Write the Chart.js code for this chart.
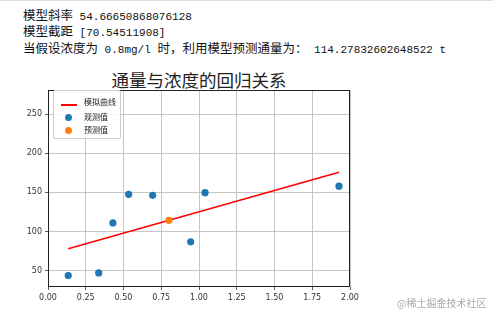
<!DOCTYPE html>
<html>
<head>
<meta charset="utf-8">
<script src="https://cdn.jsdelivr.net/npm/chart.js@4"></script>
<style>
  body { margin: 0; background: #fff; width: 493px; height: 311px; overflow: hidden; position: relative; }
  .out { position: absolute; left: 23px; top: 8px; font-family: "Noto Sans CJK SC"; font-size: 12.5px; line-height: 13.3px; color: #111; white-space: pre; }
  .out .m { font-family: "Liberation Mono"; font-size: 11px; }
  .topline { position: absolute; left: 0; top: 0; width: 493px; height: 1px; background: #ddd; }
  #title { position: absolute; left: 48px; width: 302px; top: 67px; text-align: center; font-family: "Noto Sans CJK SC"; font-size: 17.5px; color: #222; }
  #wrap { position: absolute; left: 0; top: 60px; width: 493px; height: 251px; }
  .legend { position: absolute; left: 53px; top: 90px; width: 66px; height: 47px; border: 1px solid #ccc; border-radius: 2px; background: rgba(255,255,255,0.85); font-family: "Noto Sans CJK SC"; font-size: 8px; color: #222; }
  .legend div { position: absolute; left: 30px; }
  .mark { position: absolute; }
  .wm { position: absolute; left: 397px; top: 295px; font-family: "Noto Sans CJK SC"; font-size: 10px; color: #aaa; }
</style>
</head>
<body>
<div class="topline"></div>
<div class="out">模型斜率<span class="m"> 54.66650868076128</span>
模型截距<span class="m"> [70.54511908]</span>
当假设浓度为<span class="m"> 0.8mg/l </span>时，利用模型预测通量为：<span class="m"> 114.27832602648522 t</span></div>
<div id="title">通量与浓度的回归关系</div>
<div id="wrap"><canvas id="c" width="493" height="251"></canvas></div>
<div class="legend">
  <span class="mark" style="left:7px;top:13px;width:16px;height:1.5px;background:#ff0000"></span>
  <div style="top:5px">模拟曲线</div>
  <span class="mark" style="left:11px;top:23px;width:7px;height:7px;border-radius:50%;background:#1f77b4"></span>
  <div style="top:20px">观测值</div>
  <span class="mark" style="left:11px;top:36px;width:7px;height:7px;border-radius:50%;background:#ff7f0e"></span>
  <div style="top:33px">预测值</div>
</div>
<div class="wm">@稀土掘金技术社区</div>
<script>
// observed concentration (mg/l) and flux
const obsX = [0.134, 0.336, 0.43, 0.534, 0.693, 0.945, 1.04, 1.927];
const obsY = [43.6, 47, 111, 147.6, 146.3, 86.9, 149.7, 158];
const slope = 54.66650868076128;
const intercept = 70.54511908;
const predX = [0.8];
const predY = [114.27832602648522];
const xTicks = [0, 0.25, 0.5, 0.75, 1, 1.25, 1.5, 1.75, 2];
const yTicks = [50, 100, 150, 200, 250];

const lineX = [Math.min(...obsX), Math.max(...obsX)];
const lineData = lineX.map(x => ({ x: x, y: intercept + slope * x }));

const boxPlugin = {
    id: 'box',
    afterDraw(chart) {
        const a = chart.chartArea, c = chart.ctx;
        c.save();
        c.strokeStyle = '#222';
        c.lineWidth = 1;
        c.strokeRect(a.left + 0.5, a.top + 0.5, a.width - 1, a.height - 1);
        c.restore();
    }
};

new Chart(document.getElementById('c'), {
    type: 'scatter',
    data: {
        datasets: [{
            type: 'line',
            data: lineData,
            borderColor: '#ff0000',
            borderWidth: 1.5,
            pointRadius: 0,
            order: 1
        }, {
            data: obsX.map((x, i) => ({ x: x, y: obsY[i] })),
            backgroundColor: '#1f77b4',
            borderWidth: 0,
            pointRadius: 3.6,
            order: 2
        }, {
            data: predX.map((x, i) => ({ x: x, y: predY[i] })),
            backgroundColor: '#ff7f0e',
            borderWidth: 0,
            pointRadius: 3.6,
            order: 0
        }]
    },
    options: {
        responsive: false,
        animation: false,
        layout: { padding: { top: 30, right: 143, left: 0, bottom: 0 } },
        plugins: { legend: { display: false }, tooltip: { enabled: false } },
        scales: {
            x: {
                type: 'linear', min: 0, max: 2,
                afterBuildTicks: s => { s.ticks = xTicks.map(v => ({ value: v })); },
                afterFit: s => { s.height = 24; },
                grid: { color: '#b8b8b8', lineWidth: 0.8, tickLength: 3, tickColor: '#333' },
                border: { display: false },
                ticks: { color: '#333', font: { family: 'DejaVu Sans', size: 8 }, padding: 3, maxRotation: 0,
                    callback: v => v.toFixed(2) }
            },
            y: {
                type: 'linear', min: 29, max: 281,
                afterBuildTicks: s => { s.ticks = yTicks.map(v => ({ value: v })); },
                afterFit: s => { s.width = 48; },
                grid: { color: '#b8b8b8', lineWidth: 0.8, tickLength: 3, tickColor: '#333' },
                border: { display: false },
                ticks: { color: '#333', font: { family: 'DejaVu Sans', size: 8 }, padding: 3 }
            }
        }
    },
    plugins: [boxPlugin]
});
</script>
</body>
</html>
